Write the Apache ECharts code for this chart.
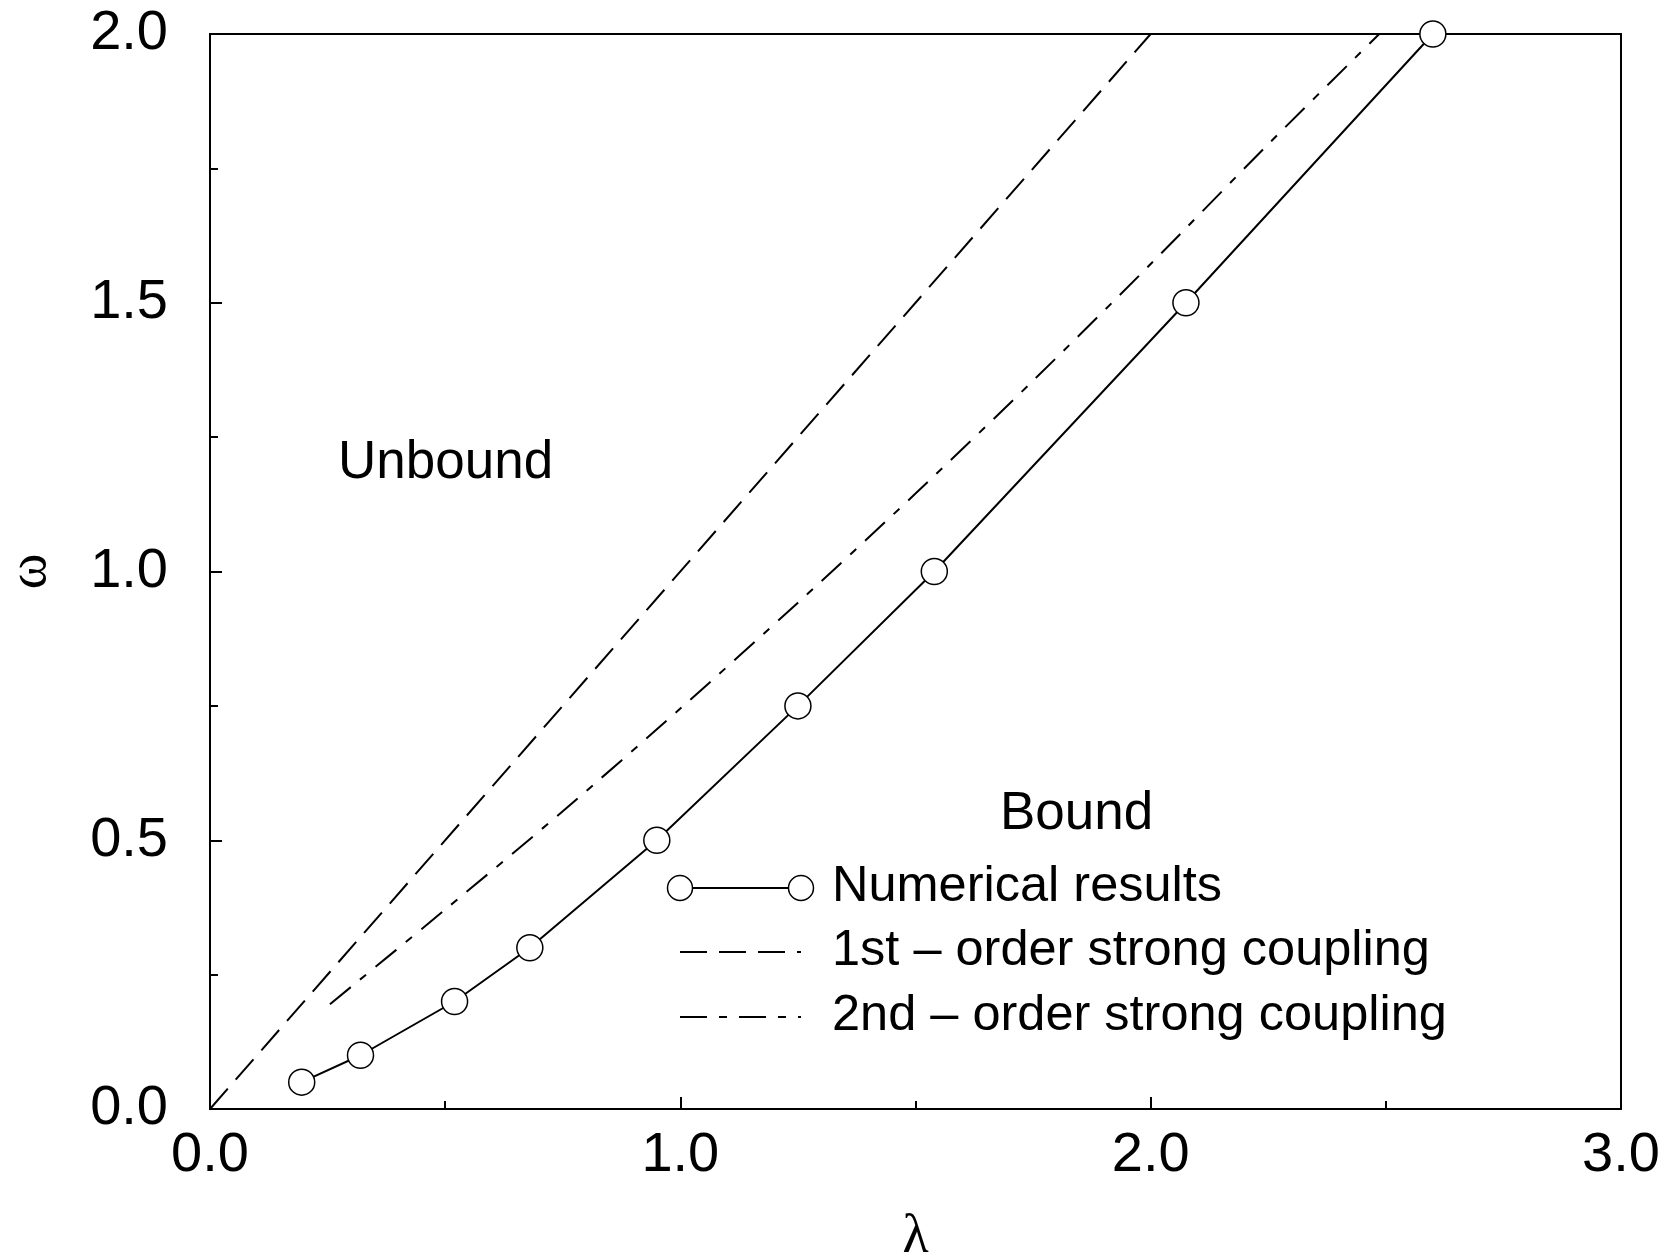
<!DOCTYPE html>
<html>
<head>
<meta charset="utf-8">
<script src="https://cdn.jsdelivr.net/npm/echarts@6/dist/echarts.min.js"></script>
<style>
html,body{margin:0;padding:0;background:#fff;}
#chart{width:1666px;height:1258px;}
</style>
</head>
<body>
<div id="chart"></div>
<script>
// Numerical results
const numLambda = [0.195, 0.32, 0.52, 0.68, 0.95, 1.25, 1.54, 2.075, 2.6];
const numOmega  = [0.05, 0.1, 0.2, 0.3, 0.5, 0.75, 1.0, 1.5, 2.0];
// 1st-order strong coupling
const firstLambda = [0.0, 2.0];
const firstOmega  = [0.0, 2.0];
// 2nd-order strong coupling
const secondLambda = [0.255, 0.5, 0.75, 1.0, 1.25, 1.5, 1.75, 2.0, 2.25, 2.486];
const secondOmega  = [0.195, 0.371, 0.554, 0.745, 0.942, 1.145, 1.355, 1.572, 1.795, 2.0];
// labels
const seriesNames = ['Numerical results', '1st \u2013 order strong coupling', '2nd \u2013 order strong coupling'];
const regionLabels = ['Unbound', 'Bound'];
const xMajorLabels = ['0.0', '1.0', '2.0', '3.0'];
const yMajorLabels = ['0.0', '0.5', '1.0', '1.5', '2.0'];

const zip = (a, b) => a.map((v, i) => [v, b[i]]);

const chart = echarts.init(document.getElementById('chart'), null, {renderer: 'canvas'});
const FONT = '"Liberation Sans", Arial, sans-serif';
const SERIF = '"Liberation Serif", "Times New Roman", serif';
const dash1 = [27, 12];
const dash2 = [27, 12, 8, 12];

const legendX0 = 680, legendX1 = 801, legendTextX = 832;
const legendY = [888, 952, 1017];

const option = {
  backgroundColor: '#fff',
  animation: false,
  grid: {left: 210, right: 45, top: 34, bottom: 149, containLabel: false, outerBoundsMode: 'none',
    show: true, borderColor: '#000', borderWidth: 2, backgroundColor: 'transparent'},
  xAxis: {
    type: 'value', min: 0, max: 3, interval: 1,
    name: '\u03bb', nameLocation: 'middle', nameGap: 102,
    nameTextStyle: {fontFamily: SERIF, fontSize: 54, color: '#000'},
    axisLine: {show: true, lineStyle: {color: '#000', width: 2}},
    axisTick: {show: true, inside: true, length: 12, lineStyle: {color: '#000', width: 2}},
    minorTick: {show: true, splitNumber: 2, length: 8, lineStyle: {color: '#000', width: 2}},
    axisLabel: {fontFamily: FONT, fontSize: 56, color: '#000', margin: 19,
      formatter: v => xMajorLabels[Math.round(v)] || ''},
    splitLine: {show: false}
  },
  yAxis: {
    type: 'value', min: 0, max: 2, interval: 0.5,
    name: '\u03c9', nameLocation: 'middle', nameGap: 152,
    nameTextStyle: {fontFamily: SERIF, fontSize: 54, color: '#000'},
    axisLine: {show: true, lineStyle: {color: '#000', width: 2}},
    axisTick: {show: true, inside: true, length: 12, lineStyle: {color: '#000', width: 2}},
    minorTick: {show: true, splitNumber: 2, length: 8, lineStyle: {color: '#000', width: 2}},
    axisLabel: {fontFamily: FONT, fontSize: 56, color: '#000', margin: 42,
      formatter: v => yMajorLabels[Math.round(v * 2)] || ''},
    splitLine: {show: false}
  },
  series: [
    {
      name: seriesNames[1], type: 'line', data: zip(firstLambda, firstOmega),
      showSymbol: false, symbol: 'none', clip: true,
      lineStyle: {color: '#000', width: 2, type: dash1}, z: 2
    },
    {
      name: seriesNames[2], type: 'line', data: zip(secondLambda, secondOmega),
      showSymbol: false, symbol: 'none', smooth: 0.3, clip: true,
      lineStyle: {color: '#000', width: 2, type: dash2}, z: 2
    },
    {
      name: seriesNames[0], type: 'line', data: zip(numLambda, numOmega),
      symbol: 'circle', symbolSize: 26, clip: false,
      itemStyle: {color: '#fff', borderColor: '#000', borderWidth: 1.5},
      lineStyle: {color: '#000', width: 2}, z: 3
    }
  ],
  graphic: [
    {type: 'text', left: 338, top: 437, style: {text: regionLabels[0], font: '53px ' + FONT, fill: '#000'}},
    {type: 'text', left: 1000, top: 788, style: {text: regionLabels[1], font: '53px ' + FONT, fill: '#000'}},
    // legend row 1
    {type: 'line', shape: {x1: legendX0, y1: legendY[0], x2: legendX1, y2: legendY[0]}, style: {stroke: '#000', lineWidth: 2}},
    {type: 'circle', shape: {cx: legendX0, cy: legendY[0], r: 12.5}, style: {fill: '#fff', stroke: '#000', lineWidth: 1.5}},
    {type: 'circle', shape: {cx: legendX1, cy: legendY[0], r: 12.5}, style: {fill: '#fff', stroke: '#000', lineWidth: 1.5}},
    {type: 'text', left: legendTextX, top: legendY[0] - 26, style: {text: seriesNames[0], font: '50.5px ' + FONT, fill: '#000'}},
    // legend row 2
    {type: 'line', shape: {x1: legendX0, y1: legendY[1], x2: legendX1, y2: legendY[1]}, style: {stroke: '#000', lineWidth: 2, lineDash: dash1}},
    {type: 'text', left: legendTextX, top: legendY[1] - 26, style: {text: seriesNames[1], font: '50.5px ' + FONT, fill: '#000'}},
    // legend row 3
    {type: 'line', shape: {x1: legendX0, y1: legendY[2], x2: legendX1, y2: legendY[2]}, style: {stroke: '#000', lineWidth: 2, lineDash: dash2}},
    {type: 'text', left: legendTextX, top: legendY[2] - 26, style: {text: seriesNames[2], font: '50.5px ' + FONT, fill: '#000'}}
  ]
};
chart.setOption(option);
</script>
</body>
</html>
